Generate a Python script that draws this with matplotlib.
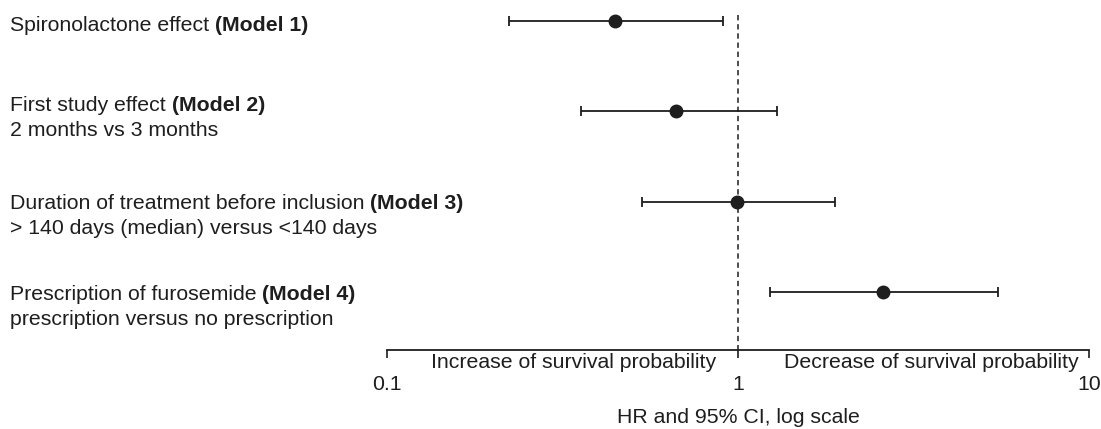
import numpy as np
import matplotlib.pyplot as plt

# Forest plot: HR y IC 95% por modelo (escala log)
plt.rcParams['font.family'] = ['Liberation Sans', 'DejaVu Sans']

labels = ['Spironolactone effect ', 'First study effect ',
          'Duration of treatment before inclusion ', 'Prescription of furosemide ']
models = ['(Model 1)', '(Model 2)', '(Model 3)', '(Model 4)']
sublabels = ['', '2 months vs 3 months', '> 140 days (median) versus <140 days',
             'prescription versus no prescription']
hr = np.array([0.446, 0.666, 0.995, 2.59])
ci_low = np.array([0.223, 0.357, 0.533, 1.234])
ci_high = np.array([0.906, 1.29, 1.89, 5.50])
tick_vals = [0.1, 1, 10]
tick_labels = ['0.1', '1', '10']

col = '#1e1e1e'
fs = 15.3
rows = np.arange(len(hr))
axis_row = 3.64

fig = plt.figure(figsize=(11.01, 4.29), dpi=100)
ax = fig.add_axes([0, 0, 1, 1])
ax.set_xscale('log')
ax.set_xlim(10 ** (-1 - 387 / 351), 10 ** (1 + 12 / 351))
ax.set_ylim(4.517, -0.2325)

# línea de referencia en HR = 1
ax.vlines(1, -0.066, axis_row, colors=col, linewidth=1.1, linestyles=(0, (3.5, 2.5)))

ax.errorbar(hr, rows, xerr=[hr - ci_low, ci_high - hr], fmt='o', color=col,
            ms=9, elinewidth=1.3, capsize=3.8, capthick=1.3)

# etiquetas a la izquierda (texto normal + modelo en negrita)
label_dy = [-4, 6, -2, -3]  # desplazamiento en píxeles
for r in rows:
    t = ax.annotate(labels[r], xy=(10 / 1101, r), xycoords=('axes fraction', 'data'),
                    xytext=(0, label_dy[r]), textcoords='offset pixels',
                    ha='left', va='center', fontsize=fs, color=col)
    ax.annotate(models[r], xy=(1, 0), xycoords=t, ha='left', va='bottom',
                fontsize=fs, fontweight='bold', color=col)
    if sublabels[r]:
        ax.annotate(sublabels[r], xy=(10 / 1101, r), xycoords=('axes fraction', 'data'),
                    xytext=(0, label_dy[r] - 25), textcoords='offset pixels',
                    ha='left', va='center', fontsize=fs, color=col)

# eje x
for s in ['top', 'right', 'left']:
    ax.spines[s].set_visible(False)
ax.spines['bottom'].set_position(('data', axis_row))
ax.spines['bottom'].set_bounds(0.1, 10)
ax.spines['bottom'].set_color(col)
ax.spines['bottom'].set_linewidth(1.3)
ax.set_xticks(tick_vals, tick_labels)
ax.xaxis.set_minor_locator(plt.NullLocator())
ax.tick_params(axis='x', direction='out', length=6, width=1.2, color=col,
               labelsize=fs, labelcolor=col, pad=12)
ax.set_yticks([])

ax.annotate('Increase of survival probability', xy=(0.339, axis_row), xytext=(0, -13),
            textcoords='offset pixels', ha='center', va='center', fontsize=fs, color=col)
ax.annotate('Decrease of survival probability', xy=(3.55, axis_row), xytext=(0, -13),
            textcoords='offset pixels', ha='center', va='center', fontsize=fs, color=col)
ax.annotate('HR and 95% CI, log scale', xy=(1, axis_row), xytext=(0, -68),
            textcoords='offset pixels', ha='center', va='center', fontsize=fs, color=col)

plt.savefig('out.png', dpi=100)
